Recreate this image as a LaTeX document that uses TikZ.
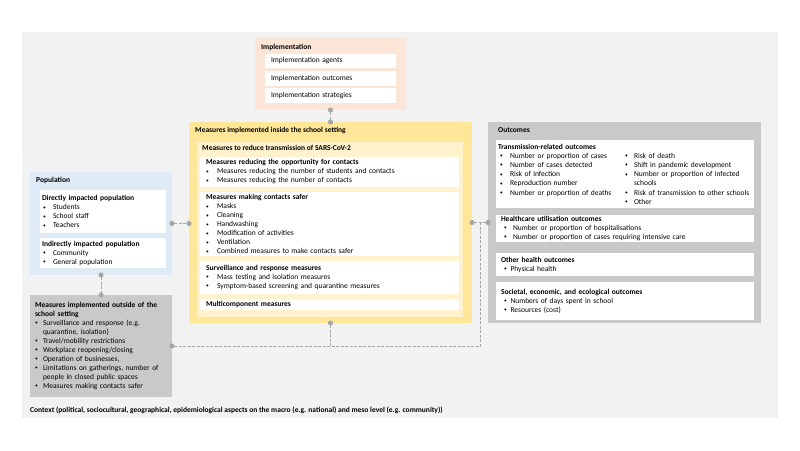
\documentclass[tikz,border=0pt]{standalone}
\usepackage{fontspec}
\setmainfont{Carlito}
\usetikzlibrary{arrows.meta,calc}
\definecolor{bgc}{HTML}{F2F2F2}
\definecolor{peach}{HTML}{FBE5D6}
\definecolor{yelo}{HTML}{FFE699}
\definecolor{yeli}{HTML}{FFF2CC}
\definecolor{popblue}{HTML}{DEEBF7}
\definecolor{grayc}{HTML}{C9C9C9}
\definecolor{linec}{HTML}{A6A6A6}
\newcommand{\blt}[2][0pt]{\hspace*{#1}\makebox[#2][l]{\raisebox{.5pt}{\fontsize{5.5}{5.5}\selectfont\textbullet}}}
\tikzset{
 panel/.style={anchor=north west,inner sep=0,outer sep=0},
 card/.style={panel,fill=white,align=left,inner ysep=0,font=\fontsize{7.5}{9}\selectfont},
 head/.style={anchor=west,inner sep=0,font=\fontsize{7.5}{9}\selectfont\bfseries},
 link/.style={draw=linec,line width=.9pt,dash pattern=on 3pt off 1.5pt},
 dots/.style={{Circle[length=5pt]}-{Circle[length=5pt]},shorten <=-2.5pt,shorten >=-2.5pt},
 dotstart/.style={{Circle[length=5pt]}-,shorten <=-2.5pt}
}

\begin{document}
\begin{tikzpicture}[x=1pt,y=-1pt]
\path[use as bounding box] (0,0) rectangle (800,450);
\node[panel,fill=bgc,minimum width=756pt,minimum height=386pt] (bg) at (22,32) {};
\node[head] (ctx) at ([shift={(8,-8)}]bg.south west) {Context (political, sociocultural, geographical, epidemiological aspects on the macro (e.g. national) and meso level (e.g. community))};

\node[panel,fill=peach,minimum width=151pt,minimum height=72pt] (impl) at (255,38) {};
\node[head] (impl-t) at ([shift={(6,9)}]impl.north west) {Implementation};
\node[card,inner xsep=6pt,text width=119pt,minimum height=14.5pt] (impl-a) at (265,53.5) {Implementation agents};
\node[card,inner xsep=6pt,text width=119pt,minimum height=14.5pt] (impl-o) at (265,71) {Implementation outcomes};
\node[card,inner xsep=6pt,text width=119pt,minimum height=14.5pt] (impl-s) at (265,88) {Implementation strategies};

\node[panel,fill=yelo,minimum width=283pt,minimum height=201pt] (inside) at (189,122) {};
\node[head] (inside-t) at ([shift={(6,8)}]inside.north west) {Measures implemented inside the school setting};
\node[panel,fill=yeli,minimum width=266pt,minimum height=175pt] (sars) at (197,142) {};
\node[head] (sars-t) at ([shift={(5,6)}]sars.north west) {Measures to reduce transmission of SARS-CoV-2};
\node[card,inner xsep=6pt,text width=247pt,minimum height=30pt] (opp) at (200,157) {\textbf{Measures reducing the opportunity for contacts}\\
 \blt{11pt}Measures reducing the number of students and contacts\\
 \blt{11pt}Measures reducing the number of contacts};
\node[card,inner xsep=6pt,text width=247pt,minimum height=64pt] (safer) at (200,192) {\textbf{Measures making contacts safer}\\
 \blt{11pt}Masks\\
 \blt{11pt}Cleaning\\
 \blt{11pt}Handwashing\\
 \blt{11pt}Modification of activities\\
 \blt{11pt}Ventilation\\
 \blt{11pt}Combined measures to make contacts safer};
\node[card,inner xsep=6pt,text width=247pt,minimum height=33pt] (surv) at (200,261) {\textbf{Surveillance and response measures}\\
 \blt{11pt}Mass testing and isolation measures\\
 \blt{11pt}Symptom-based screening and quarantine measures};
\node[card,inner xsep=6pt,text width=247pt,minimum height=11pt] (multi) at (200,299) {\textbf{Multicomponent measures}};

\node[panel,fill=popblue,minimum width=142pt,minimum height=103pt] (pop) at (30,172) {};
\node[head] (pop-t) at ([shift={(6,8)}]pop.north west) {Population};
\node[card,inner xsep=2pt,text width=122pt,minimum height=43pt] (direct) at (40,190) {\textbf{Directly impacted population}\\
 \blt[1pt]{10pt}Students\\
 \blt[1pt]{10pt}School staff\\
 \blt[1pt]{10pt}Teachers};
\node[card,inner xsep=2pt,text width=122pt,minimum height=30pt] (indirect) at (40,238) {\textbf{Indirectly impacted population}\\
 \blt[1pt]{10pt}Community\\
 \blt[1pt]{10pt}General population};

\node[card,fill=grayc,inner xsep=5pt,text width=132pt,minimum height=102pt] (outs) at (30,295) {\textbf{Measures implemented outside of the}\\
 \textbf{school setting}\\
 \blt{8pt}Surveillance and response (e.g.\\
 \hspace*{8pt}quarantine, isolation)\\
 \blt{8pt}Travel/mobility restrictions\\
 \blt{8pt}Workplace reopening/closing\\
 \blt{8pt}Operation of businesses,\\
 \blt{8pt}Limitations on gatherings, number of\\
 \hspace*{8pt}people in closed public spaces\\
 \blt{8pt}Measures making contacts safer};

\node[panel,fill=grayc,minimum width=273pt,minimum height=201pt] (outc) at (488,122) {};
\node[head] (outc-t) at ([shift={(10,8)}]outc.north west) {Outcomes};
\node[card,inner xsep=2pt,text width=254pt,minimum height=68pt,font=\fontsize{7.5}{9.2}\selectfont] (trans) at (496,140) {\textbf{Transmission-related outcomes}\\
 \parbox[t]{125pt}{\blt[2pt]{10pt}Number or proportion of cases\\
 \blt[2pt]{10pt}Number of cases detected\\
 \blt[2pt]{10pt}Risk of infection\\
 \blt[2pt]{10pt}Reproduction number\\
 \blt[2pt]{10pt}Number or proportion of deaths}%
 \parbox[t]{140pt}{\blt[2pt]{9pt}Risk of death\\
 \blt[2pt]{9pt}Shift in pandemic development\\
 \blt[2pt]{9pt}Number or proportion of infected\\
 \hspace*{11pt}schools\\
 \blt[2pt]{9pt}Risk of transmission to other schools\\
 \blt[2pt]{9pt}Other}};
\node[card,inner xsep=5pt,text width=248pt,minimum height=27pt] (health) at (496,215) {\textbf{Healthcare utilisation outcomes}\\
 \blt[3pt]{9pt}Number or proportion of hospitalisations\\
 \blt[3pt]{9pt}Number or proportion of cases requiring intensive care};
\node[card,inner xsep=5pt,text width=248pt,minimum height=23pt] (other) at (496,253) {\textbf{Other health outcomes}\\
 \blt[3pt]{6.5pt}Physical health};
\node[card,inner xsep=5pt,text width=248pt,minimum height=38pt] (soc) at (496,282) {\textbf{Societal, economic, and ecological outcomes}\\
 \blt[3pt]{6.5pt}Numbers of days spent in school\\
 \blt[3pt]{6.5pt}Resources (cost)};

\draw[link,dots] (impl.south) -- (inside.north);
\draw[link,dots] (pop.east) -- (pop.east -| inside.west);
\draw[link,dots] (inside.east) -- (outc.west);
\coordinate (jn) at ($(inside.east)!.55!(outc.west)$);
\draw[link,dotstart] (outs.east) -- (outs.east -| jn) -- (jn);
\draw[link,dotstart] (inside.south) -- (inside.south |- outs.east);
\draw[link,dots] (pop.south) -- (outs.north);
\end{tikzpicture}
\end{document}
